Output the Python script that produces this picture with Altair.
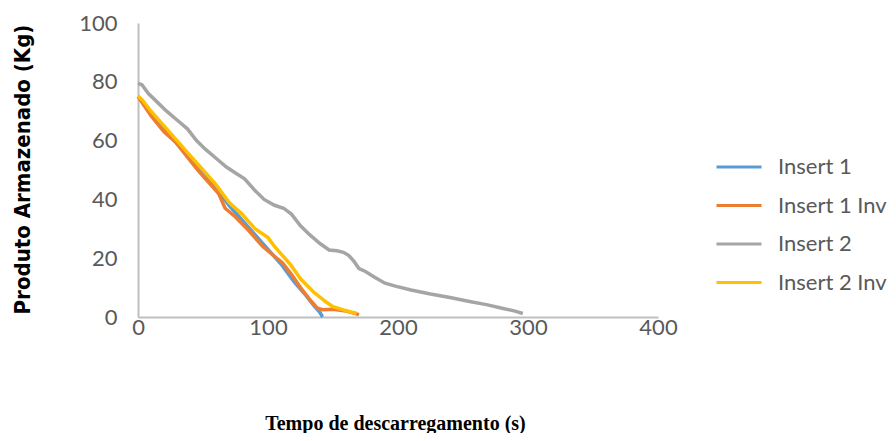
import altair as alt
import pandas as pd

series_names = ["Insert 1", "Insert 1 Inv", "Insert 2", "Insert 2 Inv"]
series_colors = ["#5B9BD5", "#ED7D31", "#A5A5A5", "#FFC000"]

x_ticks = [0, 100, 200, 300, 400]
y_ticks = [0, 20, 40, 60, 80, 100]

# Insert 1 (blue)
t_insert1 = [0, 5, 10, 20, 30, 40, 50, 60, 70, 80, 90, 100, 110, 120, 128, 135, 140, 142]
v_insert1 = [75, 72.5, 69, 64, 59, 54, 48.5, 44, 38, 33, 28, 23, 18, 12, 8, 4, 1.5, 0]

# Insert 1 Inv (orange)
t_insert1_inv = [0, 3, 10, 20, 29, 37, 46, 55, 62, 67, 75, 85, 96, 104, 111, 118, 125, 132, 138, 142, 150, 160, 170]
v_insert1_inv = [75, 73, 68.5, 63, 59.5, 55, 50, 45.5, 42, 37, 34, 29.5, 24, 21, 18.5, 14.5, 10, 6, 3, 2.5, 2.6, 2.0, 0.8]

# Insert 2 (gray)
t_insert2 = [0, 3, 8, 15, 22, 30, 38, 45, 52, 60, 68, 75, 82, 90, 97, 105, 112, 118, 125, 132, 140, 147,
             153, 158, 162, 166, 170, 175, 182, 190, 198, 210, 225, 240, 255, 268, 280, 290, 296]
v_insert2 = [79.5, 79, 76, 73, 70, 67, 64, 60, 57, 54, 51, 49, 47, 43, 40, 38, 37, 35, 31, 28, 25, 22.8,
             22.5, 22, 21, 19, 16.5, 15.5, 13.5, 11.5, 10.5, 9.2, 7.8, 6.6, 5.3, 4.2, 3, 2, 1.2]

# Insert 2 Inv (yellow)
t_insert2_inv = [0, 3, 10, 20, 30, 40, 50, 60, 65, 70, 80, 90, 100, 105, 110, 117, 125, 135, 145, 150, 158, 163, 168]
v_insert2_inv = [75, 74, 70, 65, 60, 55, 50, 45, 42, 39, 35, 30, 27, 24, 21.5, 18, 13, 8.5, 5, 3.5, 2.4, 1.8, 1.3]

rows = []
for name, ts, vs in [
    ("Insert 1", t_insert1, v_insert1),
    ("Insert 1 Inv", t_insert1_inv, v_insert1_inv),
    ("Insert 2", t_insert2, v_insert2),
    ("Insert 2 Inv", t_insert2_inv, v_insert2_inv),
]:
    for i, (t, v) in enumerate(zip(ts, vs)):
        rows.append({"serie": name, "tempo": t, "produto": v, "ordem": i})
df = pd.DataFrame(rows)

label_font = "Lato"
label_color = "#595959"

chart = alt.Chart(df).mark_line(strokeWidth=3.5).encode(
    x=alt.X(
        "tempo:Q",
        scale=alt.Scale(domain=[0, 400], nice=False),
        axis=alt.Axis(
            values=x_ticks,
            title="Tempo de descarregamento (s)",
            titleFont="Liberation Serif",
            titleFontSize=20,
            titleFontWeight="bold",
            titleColor="#000000",
            titleX=257,
            titleY=106,
            titleBaseline="middle",
            titleAlign="center",
            labelFont=label_font,
            labelFontSize=22,
            labelColor=label_color,
            labelPadding=0,
            ticks=False,
            tickSize=0,
            grid=False,
            domainColor="#BFBFBF",
            domainWidth=2,
            labelFlush=False,
        ),
    ),
    y=alt.Y(
        "produto:Q",
        scale=alt.Scale(domain=[0, 100], nice=False),
        axis=alt.Axis(
            values=y_ticks,
            title="Produto  Armazenado (Kg)",
            titleFont="Liberation Sans Narrow, DejaVu Sans Condensed, sans-serif",
            titleFontSize=22,
            titleFontWeight="bold",
            titleColor="#000000",
            titleX=-116,
            titleY=146,
            titleAngle=270,
            titleBaseline="middle",
            titleAlign="center",
            labelFont=label_font,
            labelFontSize=22,
            labelColor=label_color,
            labelPadding=21,
            ticks=False,
            tickSize=0,
            grid=False,
            domainColor="#BFBFBF",
            domainWidth=2,
            labelFlush=False,
        ),
    ),
    color=alt.Color(
        "serie:N",
        scale=alt.Scale(domain=series_names, range=series_colors),
        legend=alt.Legend(
            title=None,
            orient="none",
            legendX=577,
            legendY=132,
            symbolType="stroke",
            symbolSize=2025,
            symbolStrokeWidth=3,
            clipHeight=24,
            rowPadding=14.5,
            labelFont=label_font,
            labelFontSize=22,
            labelColor=label_color,
            labelOffset=15,
            padding=0,
            labelLimit=400,
        ),
    ),
    order="ordem:Q",
).properties(
    width=520,
    height=294,
    autosize=alt.AutoSizeParams(type="none"),
    padding={"left": 130, "top": 15, "right": 230, "bottom": 116},
).configure_view(stroke=None)

chart.save("out.html", embed_options={"renderer": "svg", "actions": False})
